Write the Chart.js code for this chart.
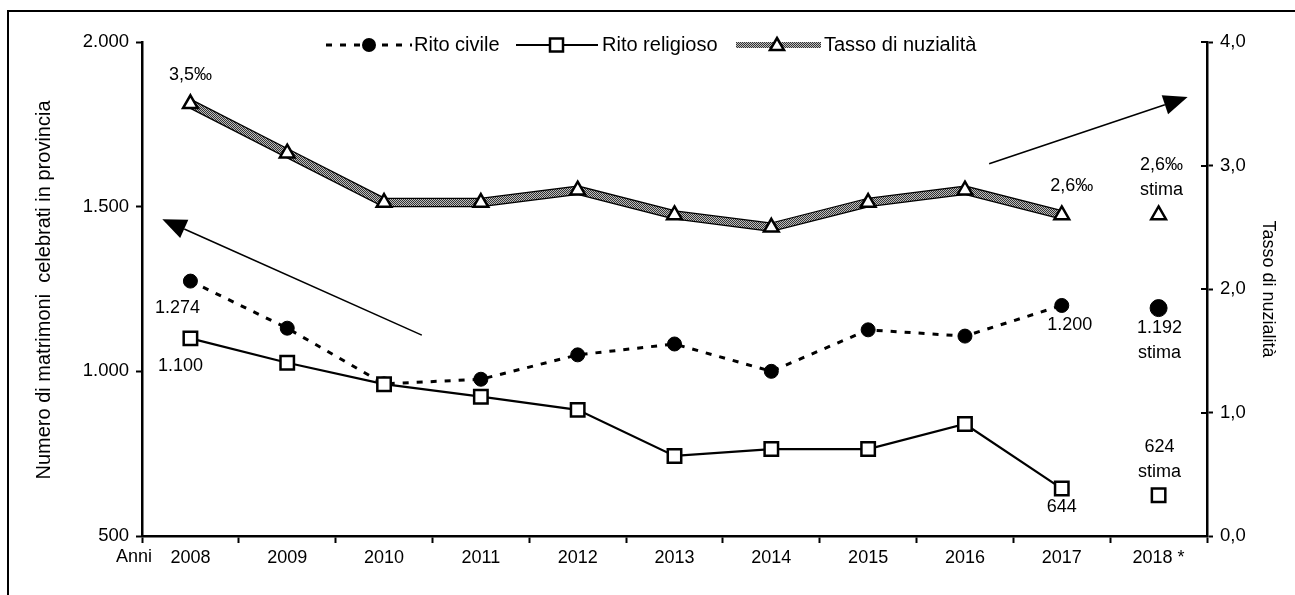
<!DOCTYPE html>
<html>
<head>
<meta charset="utf-8">
<script src="https://cdn.jsdelivr.net/npm/chart.js@4.4.1/dist/chart.umd.min.js"></script>
<style>
  html, body { margin: 0; padding: 0; background: #fff; overflow: hidden; }
  #wrap { position: relative; width: 1295px; height: 595px; }
  #frame { position: absolute; left: 7px; top: 10px; width: 1400px; height: 700px;
           border: 2.5px solid #000; pointer-events: none; box-sizing: border-box; }
</style>
</head>
<body>
<div id="wrap">
  <canvas id="c" width="1295" height="595"></canvas>
  <div id="frame"></div>
</div>
<script>
// ---------------- DATA ----------------
const years = ['2008','2009','2010','2011','2012','2013','2014','2015','2016','2017','2018 *'];
const ritoCivile    = [1274, 1131, 962, 976, 1050, 1083, 1000, 1126, 1107, 1200, null];
const ritoReligioso = [1100, 1026, 961, 923, 883, 743, 764, 764, 840, 644, null];
const tassoNuzialita = [3.5, 3.1, 2.7, 2.7, 2.8, 2.6, 2.5, 2.7, 2.8, 2.6, null];
const stimaCivile    = [null, null, null, null, null, null, null, null, null, null, 1192];
const stimaReligioso = [null, null, null, null, null, null, null, null, null, null, 624];
const stimaTasso     = [null, null, null, null, null, null, null, null, null, null, 2.6];
const leftTicks  = ['500', '1.000', '1.500', '2.000'];
const leftTickValues = [500, 1000, 1500, 2000];
const rightTicks = ['0,0', '1,0', '2,0', '3,0', '4,0'];
const rightTickValues = [0, 1, 2, 3, 4];

const FONT = "'Liberation Sans', Arial, Helvetica, sans-serif";

function fmtN(v) { return String(v).replace(/\B(?=(\d{3})+(?!\d))/g, '.'); }
function fmtT(v) { return v.toFixed(1).replace('.', ',') + '\u2030'; }

// hatched pattern for the "Tasso" line
function makePattern() {
  const pc = document.createElement('canvas');
  pc.width = 2; pc.height = 2;
  const p = pc.getContext('2d');
  p.fillStyle = '#bdbdbd'; p.fillRect(0, 0, 2, 2);
  p.fillStyle = '#333333'; p.fillRect(0, 0, 1, 1); p.fillRect(1, 1, 1, 1);
  return document.getElementById('c').getContext('2d').createPattern(pc, 'repeat');
}
const hatch = makePattern();

// labels: [datasetIndex, pointIndex, lines, dx, dy]
const pointLabels = [
  [2, 0, [fmtT(tassoNuzialita[0])], 0, -29],
  [2, 9, [fmtT(tassoNuzialita[9])], 10, -29],
  [5, 10, [fmtT(stimaTasso[10]), 'stima'], 3, -50],
  [1, 0, [fmtN(ritoCivile[0])], -13, 27],
  [0, 0, [fmtN(ritoReligioso[0])], -10, 28],
  [1, 9, [fmtN(ritoCivile[9])], 8, 20],
  [3, 10, [fmtN(stimaCivile[10]), 'stima'], 1, 20],
  [4, 10, [fmtN(stimaReligioso[10]), 'stima'], 1, -48],
  [0, 9, [fmtN(ritoReligioso[9])], 0, 18]
];

// arrows in data coordinates: [x index from, y(left) from, x index to, y(left) to]
const arrows = [
  [2.39, 1110, -0.29, 1462],
  [8.25, 1630, 10.30, 1833]
];

const overlay = {
  id: 'overlay',
  beforeDatasetDraw(chart, args) {
    if (args.index !== 2) return;
    const ctx = chart.ctx;
    const pts = args.meta.data.filter((p, i) => tassoNuzialita[i] !== null);
    ctx.save();
    ctx.strokeStyle = '#000';
    ctx.lineWidth = 9.5;
    ctx.lineJoin = 'round';
    ctx.beginPath();
    pts.forEach((p, i) => { if (i === 0) ctx.moveTo(p.x, p.y); else ctx.lineTo(p.x, p.y); });
    ctx.stroke();
    ctx.restore();
  },
  afterDraw(chart) {
    const ctx = chart.ctx;
    const x = chart.scales.x, y = chart.scales.y, y2 = chart.scales.y2;
    ctx.save();
    // inner ticks of right axis
    ctx.strokeStyle = '#000'; ctx.lineWidth = 2;
    rightTickValues.forEach(v => {
      const py = Math.round(y2.getPixelForValue(v));
      ctx.beginPath(); ctx.moveTo(y2.left - 6, py); ctx.lineTo(y2.left, py); ctx.stroke();
    });
    // Anni
    ctx.fillStyle = '#000';
    ctx.font = '18px ' + FONT;
    ctx.textAlign = 'right'; ctx.textBaseline = 'middle';
    ctx.fillText('Anni', 152, 557);
    // axis titles
    ctx.textAlign = 'center';
    ctx.font = '20px ' + FONT;
    ctx.save();
    ctx.translate(44, 290); ctx.rotate(-Math.PI / 2);
    ctx.fillText('Numero di matrimoni  celebrati in provincia', 0, 0);
    ctx.restore();
    ctx.font = '18px ' + FONT;
    ctx.save();
    ctx.translate(1268, 289); ctx.rotate(Math.PI / 2);
    ctx.fillText('Tasso di nuzialità', 0, 0);
    ctx.restore();
    // point labels
    ctx.font = '18px ' + FONT;
    pointLabels.forEach(([ds, i, lines, dx, dy]) => {
      const el = chart.getDatasetMeta(ds).data[i];
      lines.forEach((t, k) => ctx.fillText(t, el.x + dx, el.y + dy + k * 25));
    });
    // arrows
    arrows.forEach(([xi0, v0, xi1, v1]) => {
      const x0 = x.left + (xi0 + 0.5) * (x.width / years.length);
      const x1 = x.left + (xi1 + 0.5) * (x.width / years.length);
      const y0 = y.getPixelForValue(v0), y1p = y.getPixelForValue(v1);
      const ang = Math.atan2(y1p - y0, x1 - x0);
      const hl = 24, hw = 10;
      const bx = x1 - hl * Math.cos(ang), by = y1p - hl * Math.sin(ang);
      ctx.strokeStyle = '#000'; ctx.lineWidth = 1.6;
      ctx.beginPath(); ctx.moveTo(x0, y0); ctx.lineTo(bx, by); ctx.stroke();
      ctx.beginPath();
      ctx.moveTo(x1, y1p);
      ctx.lineTo(bx + hw * Math.sin(ang), by - hw * Math.cos(ang));
      ctx.lineTo(bx - hw * Math.sin(ang), by + hw * Math.cos(ang));
      ctx.closePath(); ctx.fill();
    });
    // legend
    const ly = 45;
    ctx.textAlign = 'left'; ctx.textBaseline = 'middle';
    ctx.font = '20px ' + FONT;
    // item 1: Rito civile
    ctx.strokeStyle = '#000'; ctx.lineWidth = 3; ctx.setLineDash([6, 8]);
    ctx.beginPath(); ctx.moveTo(326, ly); ctx.lineTo(412, ly); ctx.stroke();
    ctx.setLineDash([]);
    ctx.beginPath(); ctx.arc(369, ly, 7, 0, Math.PI * 2); ctx.fill();
    ctx.fillText('Rito civile', 414, ly);
    // item 2: Rito religioso
    ctx.lineWidth = 2;
    ctx.beginPath(); ctx.moveTo(516, ly); ctx.lineTo(598, ly); ctx.stroke();
    ctx.fillStyle = '#fff'; ctx.lineWidth = 2.5;
    ctx.fillRect(550, ly - 6.5, 13, 13); ctx.strokeRect(550, ly - 6.5, 13, 13);
    ctx.fillStyle = '#000';
    ctx.fillText('Rito religioso', 602, ly);
    // item 3: Tasso di nuzialità
    ctx.strokeStyle = hatch; ctx.lineWidth = 6;
    ctx.beginPath(); ctx.moveTo(736, ly); ctx.lineTo(821, ly); ctx.stroke();
    ctx.strokeStyle = '#000'; ctx.lineWidth = 2.5; ctx.fillStyle = '#fff';
    ctx.beginPath(); ctx.moveTo(777, ly - 7); ctx.lineTo(784, ly + 5); ctx.lineTo(770, ly + 5); ctx.closePath();
    ctx.fill(); ctx.stroke();
    ctx.fillStyle = '#000';
    ctx.fillText('Tasso di nuzialità', 824, ly);
    ctx.restore();
  }
};

const civStyle = { borderColor: '#000', backgroundColor: '#000', pointStyle: 'circle', pointRadius: 7,
  pointBackgroundColor: '#000', pointBorderColor: '#000', pointBorderWidth: 1 };
const relStyle = { borderColor: '#000', pointStyle: 'rect', pointRadius: 9.5,
  pointBackgroundColor: '#fff', pointBorderColor: '#000', pointBorderWidth: 2.5 };
const tasStyle = { pointStyle: 'triangle', pointRadius: 8.5,
  pointBackgroundColor: '#fff', pointBorderColor: '#000', pointBorderWidth: 2.5 };

new Chart(document.getElementById('c'), {
  type: 'line',
  data: {
    labels: years,
    datasets: [
      Object.assign({ label: 'Rito religioso', data: ritoReligioso, yAxisID: 'y', borderWidth: 2.2, order: 1 }, relStyle),
      Object.assign({ label: 'Rito civile', data: ritoCivile, yAxisID: 'y', borderWidth: 3, borderDash: [6, 8], order: 2 }, civStyle),
      Object.assign({ label: 'Tasso di nuzialità', data: tassoNuzialita, yAxisID: 'y2', borderColor: hatch, borderWidth: 7, order: 3 }, tasStyle),
      Object.assign({ label: 'stima civile', data: stimaCivile, yAxisID: 'y', showLine: false, order: 2 }, civStyle, { pointRadius: 8.5 }),
      Object.assign({ label: 'stima religioso', data: stimaReligioso, yAxisID: 'y', showLine: false, order: 1 }, relStyle),
      Object.assign({ label: 'stima tasso', data: stimaTasso, yAxisID: 'y2', showLine: false, order: 3 }, tasStyle)
    ]
  },
  options: {
    responsive: false,
    animation: false,
    events: [],
    layout: { padding: { top: 42, left: 0, right: 0, bottom: 0 } },
    plugins: { legend: { display: false }, tooltip: { enabled: false } },
    elements: { line: { tension: 0 } },
    scales: {
      x: {
        type: 'category',
        offset: true,
        grid: { offset: true, drawOnChartArea: false, drawTicks: true, tickLength: 7, tickColor: '#000', tickWidth: 2 },
        border: { display: true, color: '#000', width: 2.5 },
        ticks: { color: '#000', font: { family: FONT, size: 18 }, padding: 4, maxRotation: 0, autoSkip: false },
        afterFit(s) { s.height = 59; }
      },
      y: {
        position: 'left',
        min: 500, max: 2000,
        afterBuildTicks(s) { s.ticks = leftTickValues.map(v => ({ value: v })); },
        grid: { drawOnChartArea: false, tickLength: 6, tickColor: '#000', tickWidth: 2 },
        border: { display: true, color: '#000', width: 2.5 },
        ticks: { color: '#000', font: { family: FONT, size: 18.5 }, padding: 7,
          callback: (v) => leftTicks[leftTickValues.indexOf(v)] },
        afterFit(s) { s.width = 142; }
      },
      y2: {
        position: 'right',
        min: 0, max: 4,
        afterBuildTicks(s) { s.ticks = rightTickValues.map(v => ({ value: v })); },
        grid: { drawOnChartArea: false, tickLength: 6, tickColor: '#000', tickWidth: 2 },
        border: { display: true, color: '#000', width: 2.5 },
        ticks: { color: '#000', font: { family: FONT, size: 18.5 }, padding: 7,
          callback: (v) => rightTicks[rightTickValues.indexOf(v)] },
        afterFit(s) { s.width = 88; }
      }
    }
  },
  plugins: [overlay]
});
</script>
</body>
</html>
